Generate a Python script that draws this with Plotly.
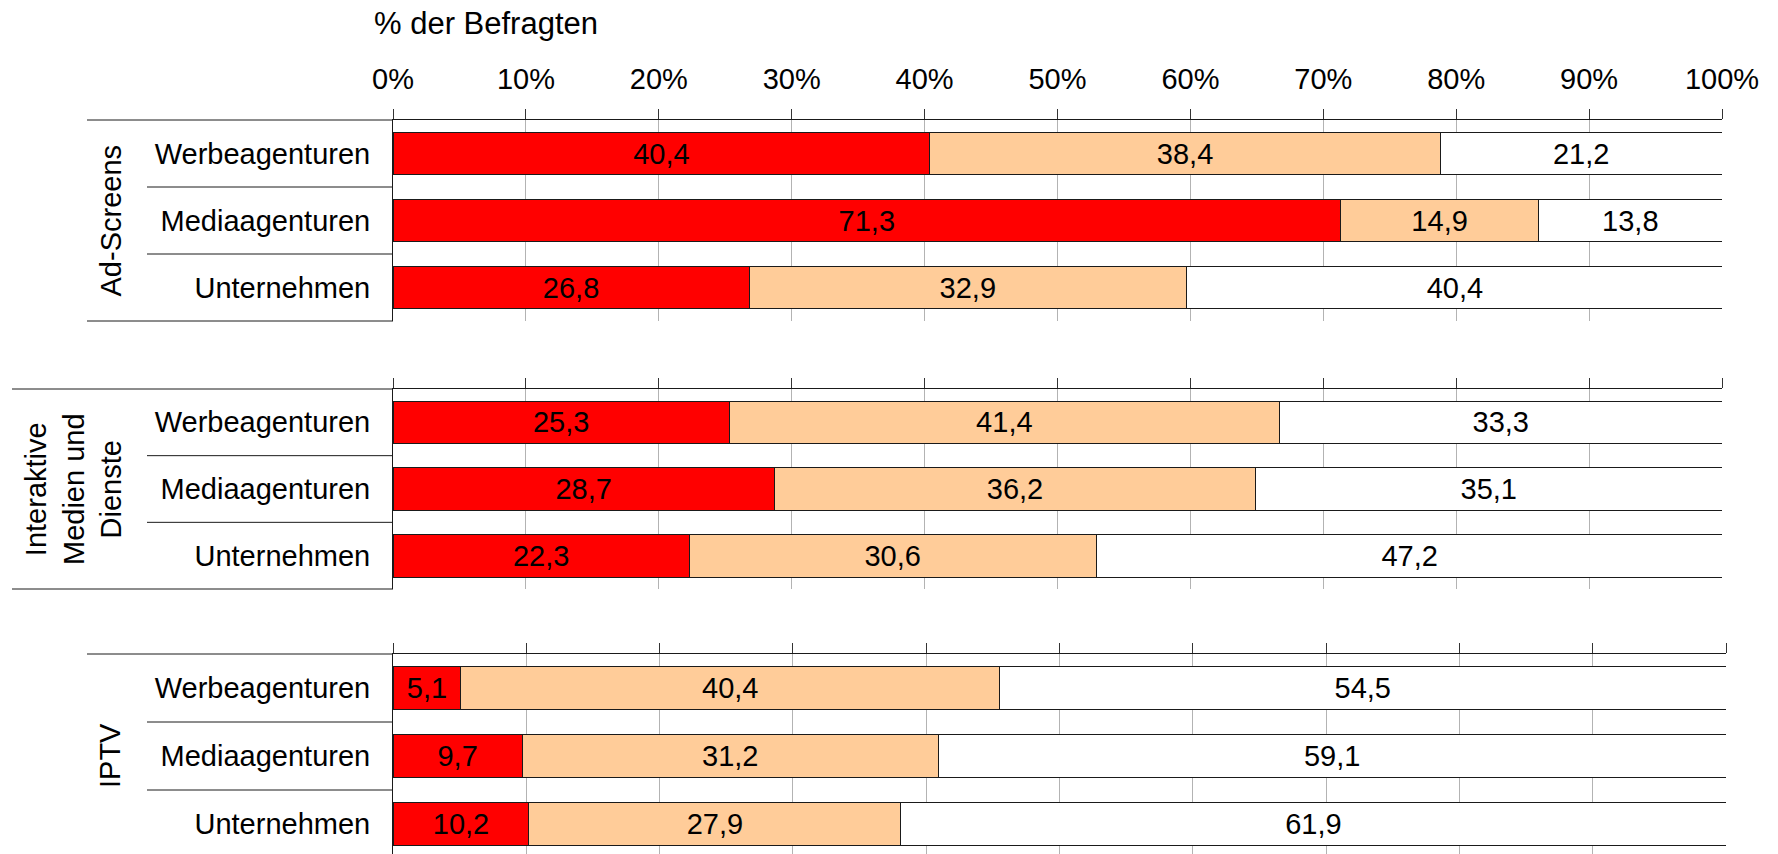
import plotly.graph_objects as go

# ---------------- data ----------------
categories = ["Werbeagenturen", "Mediaagenturen", "Unternehmen"]
groups = ["Ad-Screens", "Interaktive<br>Medien und<br>Dienste", "IPTV"]

red_adscreens = [40.4, 71.3, 26.8]
peach_adscreens = [38.4, 14.9, 32.9]
white_adscreens = [21.2, 13.8, 40.4]

red_interaktiv = [25.3, 28.7, 22.3]
peach_interaktiv = [41.4, 36.2, 30.6]
white_interaktiv = [33.3, 35.1, 47.2]

red_iptv = [5.1, 9.7, 10.2]
peach_iptv = [40.4, 31.2, 27.9]
white_iptv = [54.5, 59.1, 61.9]

tick_vals = [0, 10, 20, 30, 40, 50, 60, 70, 80, 90, 100]
tick_text = ["0%", "10%", "20%", "30%", "40%", "50%", "60%", "70%", "80%", "90%", "100%"]
axis_title = "% der Befragten"

panels = [
    (red_adscreens, peach_adscreens, white_adscreens),
    (red_interaktiv, peach_interaktiv, white_interaktiv),
    (red_iptv, peach_iptv, white_iptv),
]

# ---------------- styling ----------------
W, H = 1778, 854
ML, MR, MT, MB = 393, 52, 120, 0
PW = W - ML - MR
PH = H - MT - MB
FONT = "Liberation Sans, Arial, sans-serif"
FS = 29
colors = ["#FF0000", "#FFCC99", "#FFFFFF"]
LINE = "#1a1a1a"


def px_x(px):
    return (px - ML) / PW


def px_y(py):
    return 1 - (py - MT) / PH


y_domains = [
    [px_y(321), 1.0],
    [px_y(589), px_y(389)],
    [0.0, px_y(654)],
]
x_domains = [[0, 1329 / PW], [0, 1329 / PW], [0, 1.0]]
y_ranges = [[2.5, -0.5], [2.5, -0.5], [-0.5 + 200 / 68, -0.5]]

fig = go.Figure()

for i, vals in enumerate(panels):
    xa = "x" if i == 0 else f"x{i+1}"
    ya = "y" if i == 0 else f"y{i+1}"
    for v, c in zip(vals, colors):
        fig.add_trace(go.Bar(
            y=categories, x=v, orientation="h",
            xaxis=xa, yaxis=ya,
            marker=dict(color=c, line=dict(color=LINE, width=1)),
            width=0.64,
            texttemplate="%{x:.1f}",
            textposition="inside",
            insidetextanchor="middle",
            constraintext="none",
            textangle=0,
            textfont=dict(family=FONT, size=FS, color="#000000"),
            showlegend=False,
            hoverinfo="skip",
        ))

layout = dict(
    width=W, height=H,
    margin=dict(l=ML, r=MR, t=MT, b=MB, pad=0),
    paper_bgcolor="white", plot_bgcolor="white",
    barmode="stack",
    separators=",.",
    font=dict(family=FONT, size=FS, color="#000000"),
)

for i in range(3):
    xk = "xaxis" if i == 0 else f"xaxis{i+1}"
    yk = "yaxis" if i == 0 else f"yaxis{i+1}"
    ya = "y" if i == 0 else f"y{i+1}"
    xa = "x" if i == 0 else f"x{i+1}"
    layout[xk] = dict(
        domain=x_domains[i], anchor=ya, side="top",
        range=[0, 100], tickmode="array", tickvals=tick_vals, ticktext=tick_text,
        showticklabels=(i == 0),
        tickfont=dict(family=FONT, size=FS, color="#000000"),
        ticks="outside", ticklen=10, tickcolor="#333333", tickwidth=1,
        ticklabelstandoff=8,
        showline=True, linecolor=LINE, linewidth=1,
        showgrid=True, gridcolor="#b3b3b3", gridwidth=1,
        zeroline=False, fixedrange=True,
    )
    layout[yk] = dict(
        domain=y_domains[i], anchor=xa,
        type="category", categoryorder="array", categoryarray=categories,
        range=y_ranges[i],
        ticks="", ticklabelstandoff=16,
        tickfont=dict(family=FONT, size=FS, color="#000000"),
        showline=True, linecolor=LINE, linewidth=1,
        showgrid=False, zeroline=False, fixedrange=True,
    )

fig.update_layout(**layout)

# table-like lines on the left
left_px = [87, 12, 87]
shapes = []
for i in range(3):
    yd = "y domain" if i == 0 else f"y{i+1} domain"
    yr = "y" if i == 0 else f"y{i+1}"
    shapes.append(dict(type="line", xref="paper", yref=yd,
                       x0=px_x(left_px[i]), x1=0, y0=1, y1=1,
                       line=dict(color=LINE, width=1)))
    if i < 2:
        shapes.append(dict(type="line", xref="paper", yref=yd,
                           x0=px_x(left_px[i]), x1=0, y0=0, y1=0,
                           line=dict(color=LINE, width=1)))
    for yy in (0.5, 1.5):
        shapes.append(dict(type="line", xref="paper", yref=yr,
                           x0=px_x(147), x1=0, y0=yy, y1=yy,
                           line=dict(color=LINE, width=1)))
fig.update_layout(shapes=shapes)

annotations = [
    dict(text=axis_title, xref="paper", yref="paper",
         x=px_x(372), y=px_y(23), xanchor="left", yanchor="middle",
         showarrow=False, font=dict(family=FONT, size=31, color="#000000")),
    dict(text=groups[0], xref="paper", yref="y domain",
         x=px_x(110), y=0.5, xanchor="center", yanchor="middle", textangle=-90,
         showarrow=False, font=dict(family=FONT, size=FS, color="#000000")),
    dict(text=groups[1], xref="paper", yref="y2 domain",
         x=px_x(73), y=0.5, xanchor="center", yanchor="middle", textangle=-90,
         showarrow=False, align="center",
         font=dict(family=FONT, size=FS, color="#000000")),
    dict(text=groups[2], xref="paper", yref="y3",
         x=px_x(110), y=1, xanchor="center", yanchor="middle", textangle=-90,
         showarrow=False, font=dict(family=FONT, size=FS, color="#000000")),
]
fig.update_layout(annotations=annotations)

fig.write_html("out.html")
